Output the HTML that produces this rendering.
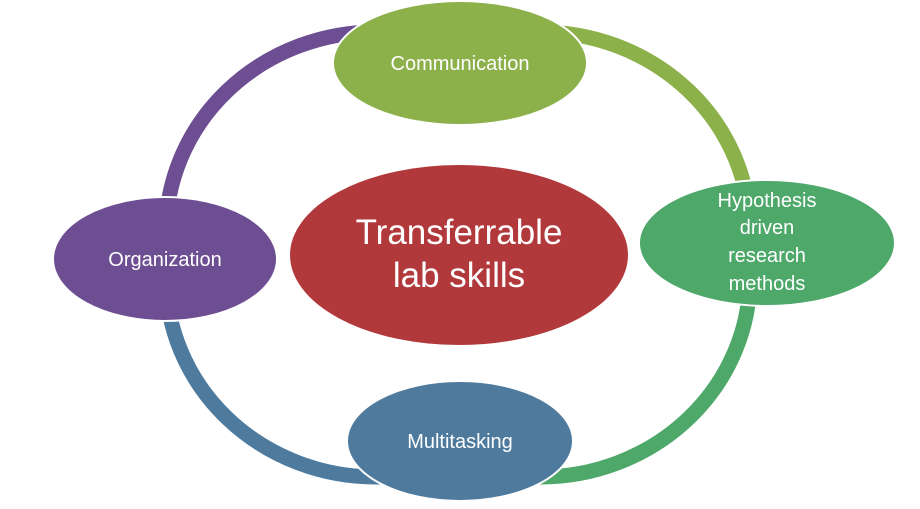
<!DOCTYPE html>
<html><head><meta charset="utf-8"><style>
html,body{margin:0;padding:0;background:#fff;}
svg{display:block;}
text{font-family:"Liberation Sans",sans-serif;fill:#fff;text-anchor:middle;}
</style></head><body>
<svg width="920" height="509" viewBox="0 0 920 509" xmlns="http://www.w3.org/2000/svg">
<defs>
<clipPath id="tl"><rect x="0" y="0" width="460" height="255"/></clipPath>
<clipPath id="tr"><rect x="460" y="0" width="460" height="255"/></clipPath>
<clipPath id="br"><rect x="460" y="255" width="460" height="254"/></clipPath>
<clipPath id="bl"><rect x="0" y="255" width="460" height="254"/></clipPath>
</defs>
<g fill="none" stroke-width="15">
<rect x="166" y="32" width="584" height="445" rx="210" ry="200" stroke="#6D4E92" clip-path="url(#tl)"/>
<rect x="166" y="32" width="584" height="445" rx="210" ry="200" stroke="#8CB04A" clip-path="url(#tr)"/>
<rect x="166" y="32" width="584" height="445" rx="210" ry="200" stroke="#4EA86A" clip-path="url(#br)"/>
<rect x="166" y="32" width="584" height="445" rx="210" ry="200" stroke="#4E7A9E" clip-path="url(#bl)"/>
</g>
<g stroke="#fff" stroke-width="2">
<ellipse cx="459" cy="255" rx="170" ry="91" fill="#B2393B"/>
<ellipse cx="460" cy="63" rx="127" ry="62" fill="#8CB04A"/>
<ellipse cx="767" cy="243" rx="128" ry="63" fill="#4EA86A"/>
<ellipse cx="460" cy="441" rx="113" ry="60" fill="#4E7A9E"/>
<ellipse cx="165" cy="259" rx="112" ry="62" fill="#6D4E92"/>
</g>
<text x="459" y="244" font-size="35">Transferrable</text>
<text x="459" y="287" font-size="35">lab skills</text>
<text x="460" y="70" font-size="20">Communication</text>
<text x="165" y="266" font-size="20">Organization</text>
<text x="460" y="448" font-size="20">Multitasking</text>
<text x="767" y="207" font-size="20">Hypothesis</text>
<text x="767" y="234" font-size="20">driven</text>
<text x="767" y="262" font-size="20">research</text>
<text x="767" y="290" font-size="20">methods</text>
</svg>
</body></html>
